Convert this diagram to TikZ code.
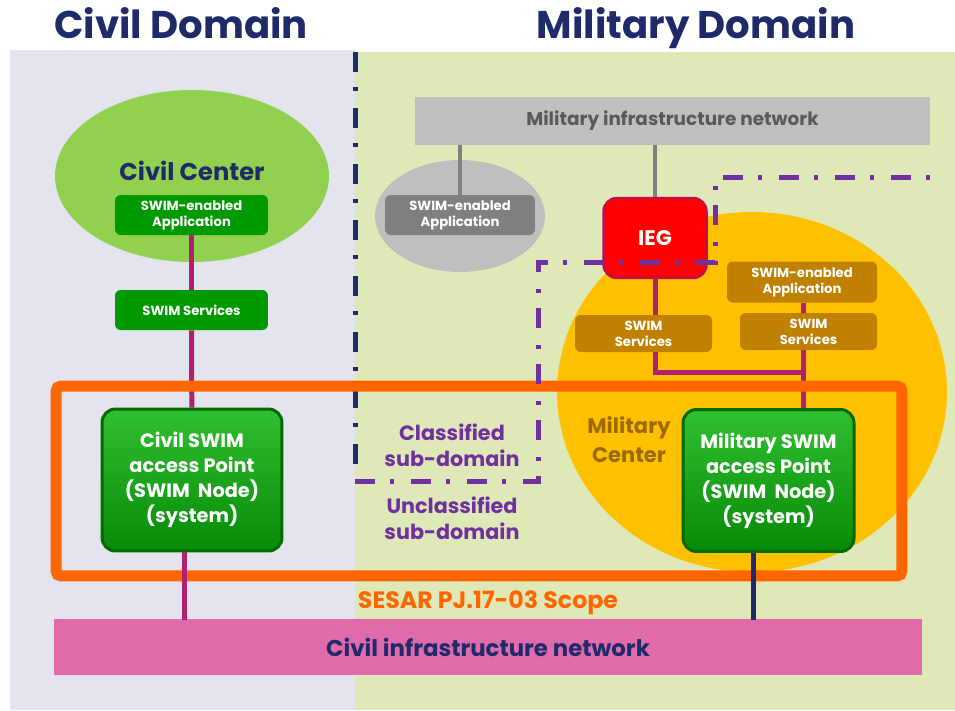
\documentclass[tikz,border=0pt]{standalone}
\usepackage{fontspec}
\setmainfont{Poppins}
\usetikzlibrary{shapes.geometric}
\definecolor{navy}{HTML}{1F2A6B}
\definecolor{purp}{HTML}{7030A0}
\definecolor{scopeor}{HTML}{FF6600}
\definecolor{civilbg}{HTML}{E4E4EE}
\definecolor{milbg}{HTML}{DFE9B7}
\definecolor{ccgreen}{HTML}{92D050}
\definecolor{boxgreen}{HTML}{009A00}
\definecolor{aptop}{HTML}{30C030}
\definecolor{apmid}{HTML}{0AA00A}
\definecolor{apbot}{HTML}{078A07}
\definecolor{apdraw}{HTML}{056A05}
\definecolor{barGray}{HTML}{BFBFBF}
\definecolor{boxGray}{HTML}{808080}
\definecolor{txtGray}{HTML}{595959}
\definecolor{milyel}{HTML}{FFC000}
\definecolor{milbrown}{HTML}{C08000}
\definecolor{mctext}{HTML}{9C6B00}
\definecolor{iegred}{HTML}{FF0000}
\definecolor{iegdraw}{HTML}{C0104A}
\definecolor{magln}{HTML}{B0206E}
\definecolor{pinkbar}{HTML}{E06AAA}
\tikzset{
  smallbox/.style={rectangle, rounded corners=0.6ex, text=white, inner sep=0pt,
    font=\bfseries\fontsize{7.5}{9}\selectfont, align=center},
  greenbox/.style={smallbox, fill=boxgreen, minimum width=3.06cm, minimum height=0.8cm},
  brownbox/.style={smallbox, fill=milbrown, minimum width=2.74cm, minimum height=0.74cm},
  apbox/.style={rectangle, rounded corners=1.4ex, draw=apdraw, line width=0.06cm,
    top color=aptop, middle color=apmid, bottom color=apbot, text=white,
    font=\bfseries\fontsize{11}{14.2}\selectfont, align=center,
    minimum width=3.6cm, minimum height=2.84cm},
  barbox/.style={rectangle, inner sep=0pt, font=\bfseries\fontsize{13}{15}\selectfont},
  centre/.style={ellipse, inner sep=0pt},
  lbl/.style={inner sep=0pt, align=center, font=\bfseries\fontsize{11.8}{14.8}\selectfont},
  titletext/.style={inner sep=0pt, anchor=base, text=navy, font=\bfseries\fontsize{22}{24}\selectfont},
  magline/.style={draw=magln, line width=0.1cm},
  grayline/.style={draw=boxGray, line width=0.09cm},
  navyline/.style={draw=navy, line width=0.1cm},
  dashdot/.style={line width=0.1cm, dash pattern=on 0.4cm off 0.3cm on 0.08cm off 0.34cm}
}
\begin{document}
\begin{tikzpicture}[x=0.02cm,y=-0.02cm]
\useasboundingbox (0,0) rectangle (955,710);
\fill[civilbg] (10,50) rectangle (355,710);
\fill[milbg] (355,52) rectangle (955,710);

\node[titletext] (civtitle) at (181,38) {Civil Domain};
\node[titletext] (miltitle) at (696,38) {Military Domain};

\draw[navy, dashdot] (355,52) -- (355,470);

\node[centre, fill=ccgreen, minimum width=5.48cm, minimum height=3.44cm] (ccen) at (192,176) {};
\node[lbl, text=navy, font=\bfseries\fontsize{13.8}{16}\selectfont] (ccenlbl) at (192,171) {Civil Center};
\node[greenbox] (capp) at (191.5,215) {SWIM-enabled\\Application};
\node[greenbox] (csrv) at (191.5,310) {SWIM Services};

\node[centre, fill=barGray, minimum width=3.4cm, minimum height=2.24cm] (gcen) at (460,216) {};
\node[smallbox, fill=boxGray, minimum width=3.0cm, minimum height=0.8cm] (gapp) at (460,215) {SWIM-enabled\\Application};
\node[barbox, fill=barGray, text=txtGray, minimum width=10.3cm, minimum height=0.96cm,
  font=\bfseries\fontsize{10.5}{12}\selectfont] (mnet) at (672.5,121) {Military infrastructure network};

\node[centre, fill=milyel, minimum width=7.8cm, minimum height=7.2cm] (mcen) at (752,392) {};
\node[lbl, text=mctext, font=\bfseries\fontsize{12}{16.5}\selectfont] (mcenlbl) at (629,440) {Military\\Center};
\node[brownbox, minimum width=3.0cm, minimum height=0.82cm] (mapp) at (802,282) {SWIM-enabled\\Application};
\node[brownbox] (msrv1) at (643.5,333.5) {SWIM\\Services};
\node[brownbox] (msrv2) at (808.5,331.5) {SWIM\\Services};
\node[rectangle, rounded corners=1.4ex, fill=iegred, draw=iegdraw, line width=0.05cm, text=white,
  minimum width=2.06cm, minimum height=1.6cm, font=\bfseries\fontsize{12}{14}\selectfont] (ieg) at (655,238) {IEG};

\coordinate (mjoin) at (803,372);
\coordinate (cnetin) at (184,620);
\coordinate (mnetin) at (753,620);

\draw[grayline] (mnet.south -| gapp.north) -- (gapp.north);
\draw[grayline] (mnet.south -| ieg.north) -- (ieg.north);
\draw[magline] (capp) -- (csrv);
\draw[magline] (ieg.south) -- (ieg.south |- msrv1.north);
\draw[magline] (ieg.south |- msrv1.south) |- (mjoin);
\draw[magline] (mapp.south -| mjoin) -- (msrv2.north -| mjoin);

\node[apbox] (cap) at (192,480) {Civil SWIM\\access Point\\(SWIM\ \ Node)\\(system)};
\node[apbox, minimum width=3.42cm] (map) at (768.5,480.5) {Military SWIM\\access Point\\(SWIM\ \ Node)\\(system)};

\draw[magline] (csrv) -- (cap);
\draw[magline] (msrv2.south -| mjoin) -- (map.north -| mjoin);

\node[draw=scopeor, line width=0.22cm, rounded corners=0.1cm, minimum width=16.92cm, minimum height=3.8cm] (scope) at (479,481) {};
\node[lbl, text=scopeor, font=\bfseries\fontsize{13.5}{15}\selectfont] (scopelbl) at (488,603) {SESAR PJ.17-03 Scope};

\node[barbox, fill=pinkbar, text=navy, minimum width=17.36cm, minimum height=1.12cm] (cnet) at (488,647) {Civil infrastructure network};
\draw[magline] (cap.south -| cnetin) -- (cnetin);
\draw[navyline] (map.south -| mnetin) -- (mnetin);

\node[lbl, text=purp] (classlbl) at (452,445) {Classified\\sub-domain};
\node[lbl, text=purp] (unclasslbl) at (452,518) {Unclassified\\sub-domain};
\draw[purp, dashdot] (355,481) -- (538,481) -- (538,262) -- (715,262) -- (715,177) -- (930,177);
\end{tikzpicture}
\end{document}
